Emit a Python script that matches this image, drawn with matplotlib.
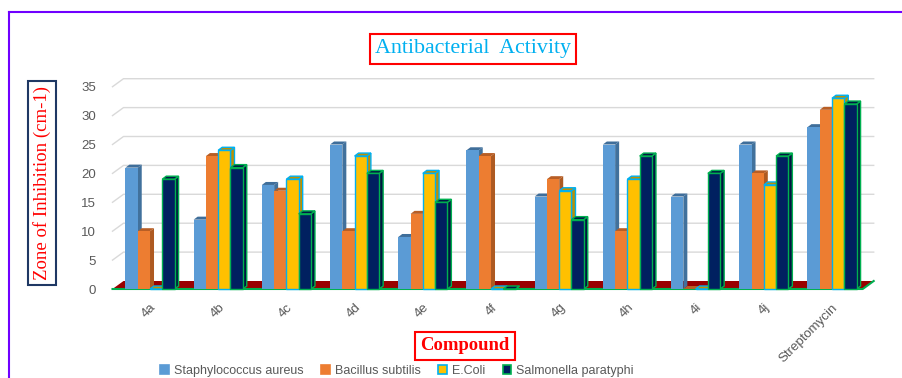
import matplotlib
matplotlib.use('Agg')
import matplotlib.pyplot as plt
from matplotlib.patches import Polygon, Rectangle
from matplotlib.lines import Line2D

# zone of inhibition per compound and organism
compounds = ['4a', '4b', '4c', '4d', '4e', '4f', '4g', '4h', '4i', '4j', 'Streptomycin']
staph = [21, 12, 18, 25, 9, 24, 16, 25, 16, 25, 28]
bacillus = [10, 23, 17, 10, 13, 23, 19, 10, 0, 20, 31]
ecoli = [0, 24, 19, 23, 20, 0, 17, 19, 0, 18, 33]
salmonella = [19, 21, 13, 20, 15, 0, 12, 23, 20, 23, 32]
series_names = ['Staphylococcus aureus', 'Bacillus subtilis', 'E.Coli', 'Salmonella paratyphi']

series = [staph, bacillus, ecoli, salmonella]
# front, side, top, edge
styles = [
    ('#5B9BD5', '#41719C', '#3F6E9A', None),
    ('#ED7D31', '#AE5A21', '#B85E25', None),
    ('#FFC000', '#BF9000', '#BF9000', '#00B0F0'),
    ('#002060', '#001640', '#001845', '#00B050'),
]

W, H = 902, 378
fig = plt.figure(figsize=(W / 100, H / 100), dpi=100)
ax = fig.add_axes([112.5 / W, (H - 289) / H, 750.2 / W, 202.3 / H])
xmin, xmax = -0.55, 10.45
ax.set_xlim(xmin, xmax)
ax.set_ylim(0, 35)
for s in ax.spines.values():
    s.set_visible(False)

px_x = 750.2 / 11.0      # pixels per category
px_y = 202.3 / 35.0      # pixels per unit
dxb, dyb = 11 / px_x, 8 / px_y   # back wall offset
dx, dy = 4 / px_x, 3 / px_y      # bar depth

# back wall gridlines
for v in range(5, 40, 5):
    ax.plot([xmin, xmin + dxb, xmax + dxb], [v, v + dyb, v + dyb],
            color='#D9D9D9', lw=1, clip_on=False, zorder=0)

# floor
floor = Polygon([(xmin, 0), (xmin + dxb, dyb), (xmax + dxb, dyb), (xmax, 0)],
                closed=True, facecolor='#990000', edgecolor='none',
                clip_on=False, zorder=1)
ax.add_patch(floor)
ax.plot([xmin, xmax, xmax + dxb], [0, 0, dyb], color='#00B050', lw=1.5,
        clip_on=False, zorder=1.5)

w = 0.18
z = 2
for i in range(len(compounds)):
    for k, vals in enumerate(series):
        v = vals[i]
        front, side, top, edge = styles[k]
        ec = edge if edge else 'none'
        lw = 1 if edge else 0
        x0 = i - 2 * w + k * w
        sp = Polygon([(x0 + w, 0), (x0 + w + dx, dy), (x0 + w + dx, v + dy), (x0 + w, v)],
                     closed=True, facecolor=side, edgecolor=ec, lw=lw,
                     clip_on=False, zorder=z)
        tp = Polygon([(x0, v), (x0 + dx, v + dy), (x0 + w + dx, v + dy), (x0 + w, v)],
                     closed=True, facecolor=top, edgecolor=ec, lw=lw,
                     clip_on=False, zorder=z)
        fr = Rectangle((x0, 0), w, v, facecolor=front, edgecolor=ec, lw=lw,
                       clip_on=False, zorder=z + 0.5)
        ax.add_patch(sp)
        ax.add_patch(tp)
        ax.add_patch(fr)
        z += 1

ax.set_yticks(range(0, 40, 5))
ax.set_xticks(range(len(compounds)))
ax.set_xticklabels(compounds, rotation=45, ha='right', va='top',
                   rotation_mode='anchor')
ax.tick_params(axis='both', length=0, colors='#595959', labelsize=9.5)
ax.tick_params(axis='y', pad=12)
ax.tick_params(axis='x', pad=9)
for lab in ax.get_xticklabels() + ax.get_yticklabels():
    lab.set_fontfamily('Liberation Sans')

# title and axis titles in boxes
fig.text(473 / W, 1 - 49 / H, 'Antibacterial  Activity', ha='center', va='center',
         fontsize=15.8, color='#00B0F0', family='Liberation Serif',
         bbox=dict(boxstyle='square,pad=0.25', fc='white', ec='#FF0000', lw=1.5))
fig.text(42 / W, 1 - 183 / H, 'Zone of Inhibition (cm-1)', ha='center', va='center',
         rotation=90, fontsize=13.5, color='#FF0000', family='Liberation Serif',
         bbox=dict(boxstyle='square,pad=0.25', fc='white', ec='#1F3864', lw=1.5))
fig.text(465 / W, 1 - 346 / H, 'Compound', ha='center', va='center',
         fontsize=13.4, color='#FF0000', family='Liberation Serif', weight='bold',
         bbox=dict(boxstyle='square,pad=0.3', fc='white', ec='#FF0000', lw=1.5))

handles = []
for (front, side, top, edge), name in zip(styles, series_names):
    handles.append(Rectangle((0, 0), 1, 1, facecolor=front,
                             edgecolor=edge if edge else front, lw=1.2))
leg = fig.legend(handles, series_names, loc='center', bbox_to_anchor=(397 / W, 1 - 371 / H),
                 ncol=4, frameon=False, handlelength=0.7, handleheight=0.7,
                 handletextpad=0.4, columnspacing=1.4,
                 prop={'family': 'Liberation Sans', 'size': 9})
for t in leg.get_texts():
    t.set_color('#595959')

# outer frame
fig.add_artist(Line2D([9 / W, 1], [1 - 12 / H, 1 - 12 / H], color='#7000FF', lw=1.5))
fig.add_artist(Line2D([9 / W, 9 / W], [0, 1 - 12 / H], color='#7000FF', lw=1.5))

fig.savefig('out.png', dpi=100)
